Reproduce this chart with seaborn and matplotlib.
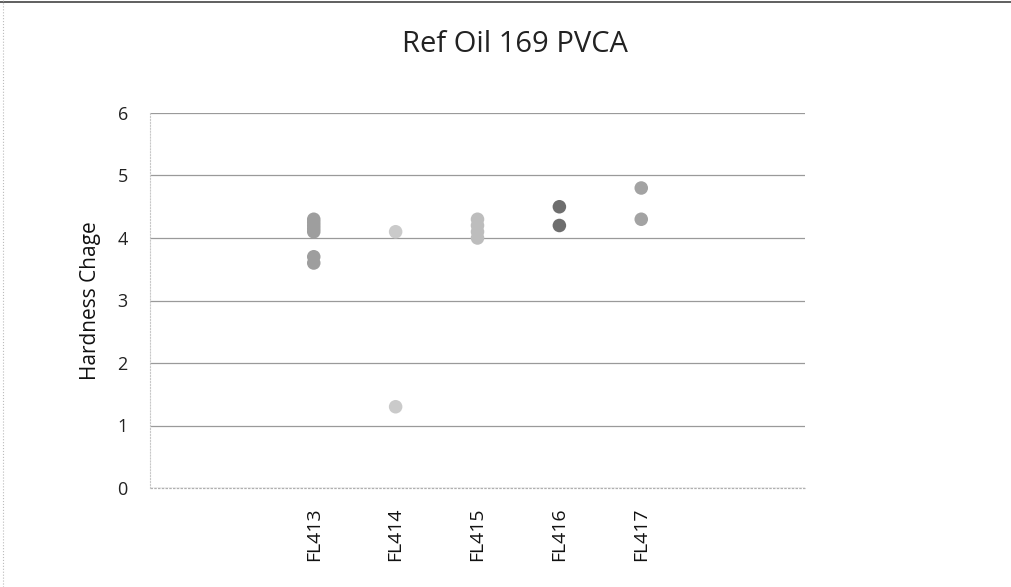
import pandas as pd
import matplotlib.pyplot as plt
import seaborn as sns
from matplotlib.lines import Line2D

# =========================
# 数据
# =========================
tests = ["FL413", "FL414", "FL415", "FL416", "FL417"]
fl413 = [4.3, 4.25, 4.2, 4.15, 4.1, 3.7, 3.6]
fl414 = [4.1, 1.3]
fl415 = [4.3, 4.2, 4.1, 4.0]
fl416 = [4.5, 4.2]
fl417 = [4.8, 4.3]
colors = ["#9e9e9e", "#cacaca", "#bdbdbd", "#6e6e6e", "#a3a3a3"]

rows = []
for name, vals in zip(tests, [fl413, fl414, fl415, fl416, fl417]):
    for v in vals:
        rows.append({"test": name, "value": v})
df = pd.DataFrame(rows)
# Excel 图里左右各留两个空位
df["pos"] = df["test"].map({t: i + 2 for i, t in enumerate(tests)})

# =========================
# 绘图
# =========================
sns.set_theme(style="white")
plt.rcParams["font.family"] = ["Open Sans", "DejaVu Sans"]

fig = plt.figure(figsize=(10.11, 5.87), dpi=100)
ax = fig.add_axes([150 / 1011, 1 - 488 / 587, 655 / 1011, 375 / 587])

sns.scatterplot(data=df, x="pos", y="value", hue="test", palette=colors,
                s=95, edgecolor="none", legend=False, ax=ax, zorder=3)

ax.set_xlim(0, 8)
ax.set_ylim(0, 6)
ax.set_xticks(range(2, 7))
ax.set_xticklabels(tests, rotation=90, fontsize=14, color="#111111")
ax.set_yticks(range(0, 7))
ax.set_yticklabels([str(i) for i in range(7)], fontsize=13, color="#222222")
ax.tick_params(axis="y", length=0, pad=16)
ax.tick_params(axis="x", length=0, pad=14)
ax.set_xlabel("")
ax.set_ylabel("Hardness Chage", fontsize=15, labelpad=12, color="#111111")
ax.yaxis.grid(True, color="#9a9a9a", linewidth=0.9)
ax.axhline(0, color="#b0b0b0", linewidth=0.9, linestyle=(0, (2, 1)), clip_on=False)
ax.set_axisbelow(True)
for side in ["top", "right", "bottom"]:
    ax.spines[side].set_visible(False)
ax.spines["left"].set_color("#c8c8c8")
ax.spines["left"].set_linestyle(":")
ax.spines["left"].set_linewidth(0.8)

fig.text(515 / 1011, 1 - 44 / 587, "Ref Oil 169 PVCA", ha="center", va="center",
         fontsize=21, color="#222222")

# 外框
fig.add_artist(Line2D([0, 1], [0.997, 0.997], color="#444444", linewidth=1.2))
fig.add_artist(Line2D([0.003, 0.003], [0, 1], color="#bbbbbb", linewidth=0.8, linestyle=":"))

fig.savefig("out.png", dpi=100)
